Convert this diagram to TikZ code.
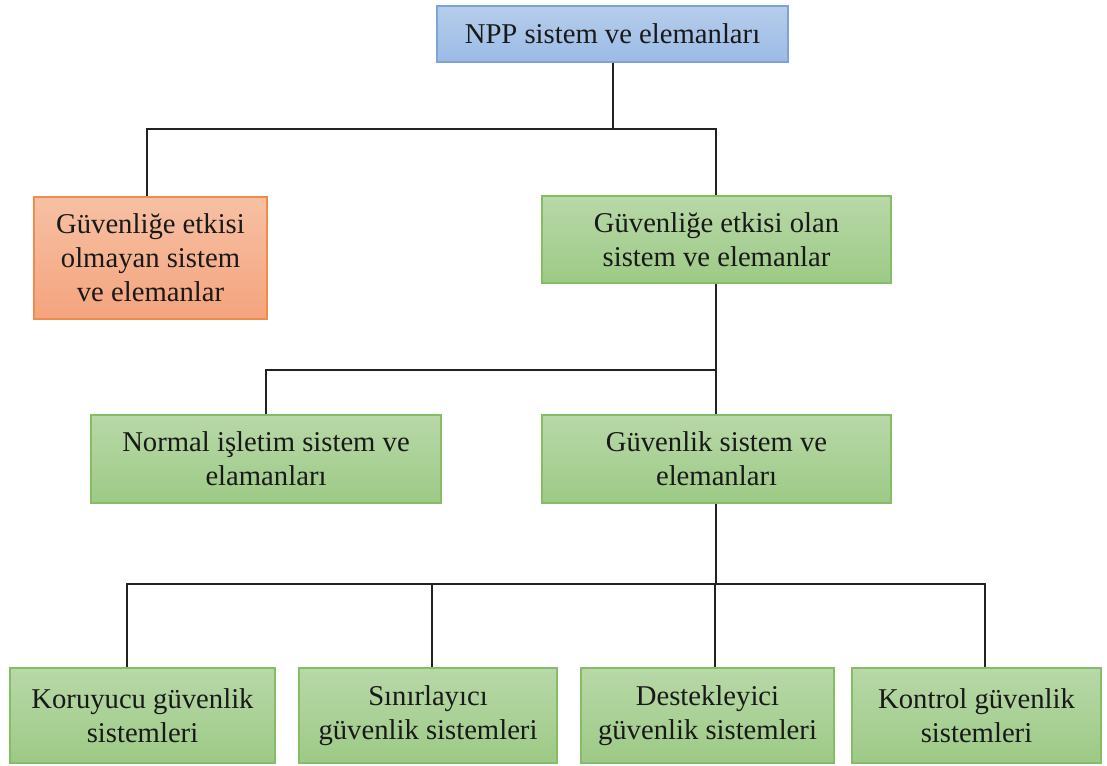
\documentclass[tikz,border=0pt]{standalone}
\usepackage{fontspec}
\setmainfont{Liberation Serif}
\usetikzlibrary{calc}
\definecolor{bluetop}{HTML}{B6CDEB}
\definecolor{bluebot}{HTML}{9BBBE6}
\definecolor{blueline}{HTML}{7EA3D6}
\definecolor{greentop}{HTML}{B8D8A8}
\definecolor{greenbot}{HTML}{9DCA86}
\definecolor{greenline}{HTML}{86BC63}
\definecolor{orangetop}{HTML}{F7C0A4}
\definecolor{orangebot}{HTML}{F4A47D}
\definecolor{orangeline}{HTML}{F08B4C}
\definecolor{wire}{HTML}{222222}
\begin{document}
\begin{tikzpicture}[x=0.75pt,y=-0.75pt,
  box/.style 2 args={rectangle, draw, line width=1pt, inner sep=0pt, align=center,
    minimum width={#1*0.75pt}, minimum height={#2*0.75pt},
    font=\fontsize{21.5}{25.5}\selectfont, text=black!90},
  bluebox/.style={draw=blueline, top color=bluetop, bottom color=bluebot},
  greenbox/.style={draw=greenline, top color=greentop, bottom color=greenbot},
  orangebox/.style={draw=orangeline, top color=orangetop, bottom color=orangebot},
  wire/.style={draw=wire, line width=1.1pt}]
\useasboundingbox (0,0) rectangle (1107,765);

% boxes
\node[box={351}{56}, bluebox] (npp) at (612.5,34) {NPP sistem ve elemanları};
\node[box={233}{122}, orangebox] (nonsafe) at (150.5,258)
  {Güvenliğe etkisi\\olmayan sistem\\ve elemanlar};
\node[box={349}{87}, greenbox] (safe) at (716.5,239.5)
  {Güvenliğe etkisi olan\\sistem ve elemanlar};
\node[box={350}{88}, greenbox] (normal) at (266,459)
  {Normal işletim sistem ve\\elamanları};
\node[box={349}{88}, greenbox] (guv) at (716.5,459)
  {Güvenlik sistem ve\\elemanları};
\node[box={265}{95}, greenbox] (koru) at (142.5,715.5)
  {Koruyucu güvenlik\\sistemleri};
\node[box={258}{95}, greenbox] (sinir) at (428,715.5)
  {Sınırlayıcı\\güvenlik sistemleri};
\node[box={253}{95}, greenbox] (destek) at (707.5,715.5)
  {Destekleyici\\güvenlik sistemleri};
\node[box={249}{95}, greenbox] (kontrol) at (976.5,715.5)
  {Kontrol güvenlik\\sistemleri};

% bus coordinates
\coordinate (t0) at (613,129);
\coordinate (tl) at (147,129);
\coordinate (tr) at (716,129);
\coordinate (m0) at (716,370);
\coordinate (ml) at (266,370);
\coordinate (b0) at (716,584);
\coordinate (b1) at (127,584);
\coordinate (b2) at (432,584);
\coordinate (b3) at (715,584);
\coordinate (b4) at (985,584);

% first level
\draw[wire] (npp.south -| t0) -- (t0);
\draw[wire] (tl |- nonsafe.north) -- (tl) -- (tr) -- (tr |- safe.north);

% second level
\draw[wire] (safe.south -| m0) -- (m0);
\draw[wire] (ml |- normal.north) -- (ml) -- (m0) -- (m0 |- guv.north);

% third level
\draw[wire] (guv.south -| b0) -- (b0);
\draw[wire] (b1 |- koru.north) -- (b1) -- (b4) -- (b4 |- kontrol.north);
\draw[wire] (b2) -- (b2 |- sinir.north);
\draw[wire] (b3) -- (b3 |- destek.north);
\end{tikzpicture}
\end{document}
